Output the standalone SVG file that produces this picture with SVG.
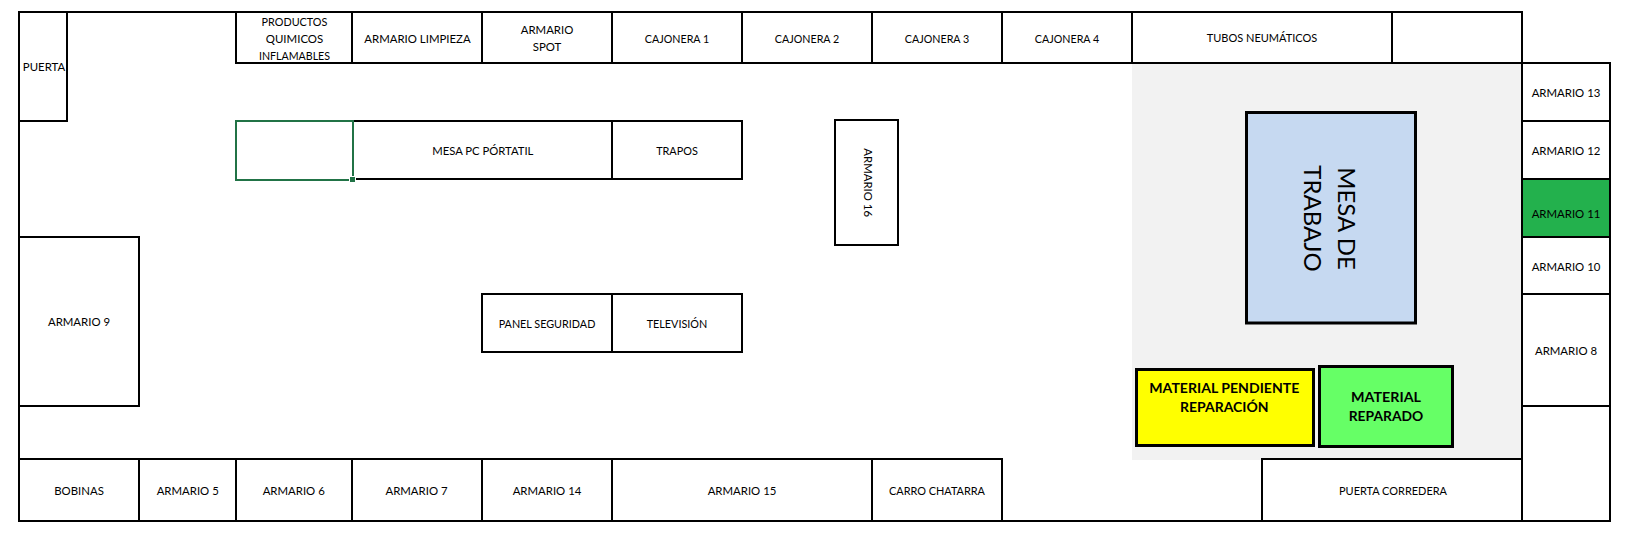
<svg xmlns="http://www.w3.org/2000/svg" width="1630" height="540" viewBox="0 0 1630 540">
<style>
rect{fill:none;stroke:#000;stroke-width:2}
text{font-family:"Lato","Liberation Sans",sans-serif;font-size:11.4px;fill:#000;text-anchor:middle}
.thick{stroke-width:3}
.b{font-weight:700;font-size:14.1px}
.big{font-size:24px}
</style>
<rect x="0" y="0" width="1630" height="540" style="fill:#fff;stroke:none"/>
<rect id="zona-trabajo" x="1132" y="63" width="390" height="397" style="fill:#f2f2f2;stroke:none"/>
<g id="contorno">
<path d="M19 12H1522V63H1610V521H19Z" fill="none" stroke="#000" stroke-width="2"/>
</g>
<g id="puerta"><rect x="19" y="12" width="48" height="109"/><text x="44" y="71.100">PUERTA</text></g>
<g id="productos"><rect x="236" y="12" width="116" height="51"/><text x="294.500" y="25.800" textLength="65.800" lengthAdjust="spacingAndGlyphs">PRODUCTOS</text><text x="294.500" y="43.100" textLength="57.500" lengthAdjust="spacingAndGlyphs">QUIMICOS</text><text x="294.500" y="60.100" textLength="71" lengthAdjust="spacingAndGlyphs">INFLAMABLES</text></g>
<g id="armario-limpieza"><rect x="352" y="12" width="130" height="51"/><text x="417.500" y="43.100">ARMARIO LIMPIEZA</text></g>
<g id="armario-spot"><rect x="482" y="12" width="130" height="51"/><text x="547" y="34.100">ARMARIO</text><text x="547" y="51.400">SPOT</text></g>
<g id="cajonera-1"><rect x="612" y="12" width="130" height="51"/><text x="677" y="43.100" textLength="64.400" lengthAdjust="spacingAndGlyphs">CAJONERA 1</text></g>
<g id="cajonera-2"><rect x="742" y="12" width="130" height="51"/><text x="807" y="43.100" textLength="64.400" lengthAdjust="spacingAndGlyphs">CAJONERA 2</text></g>
<g id="cajonera-3"><rect x="872" y="12" width="130" height="51"/><text x="937" y="43.100" textLength="64.400" lengthAdjust="spacingAndGlyphs">CAJONERA 3</text></g>
<g id="cajonera-4"><rect x="1002" y="12" width="130" height="51"/><text x="1067" y="43.100" textLength="64.400" lengthAdjust="spacingAndGlyphs">CAJONERA 4</text></g>
<g id="tubos"><rect x="1132" y="12" width="260" height="51"/><text x="1262" y="41.800" textLength="110.500" lengthAdjust="spacingAndGlyphs">TUBOS NEUMÁTICOS</text></g>
<g id="vacio-superior"><rect x="1392" y="12" width="130" height="51"/></g>
<g id="armario-13"><rect x="1522" y="63" width="88" height="58"/><text x="1566" y="97.100">ARMARIO 13</text></g>
<g id="armario-12"><rect x="1522" y="121" width="88" height="58"/><text x="1566" y="155.100">ARMARIO 12</text></g>
<g id="armario-11"><rect x="1522" y="179" width="88" height="58" style="fill:#23b14d"/><text x="1566" y="217.800">ARMARIO 11</text></g>
<g id="armario-10"><rect x="1522" y="237" width="88" height="57"/><text x="1566" y="270.800">ARMARIO 10</text></g>
<g id="armario-8"><rect x="1522" y="294" width="88" height="112"/><text x="1566" y="355.100">ARMARIO 8</text></g>
<g id="vacio-inferior"><rect x="1522" y="406" width="88" height="115"/></g>
<g id="mesa-pc"><rect x="353" y="121" width="259" height="58"/><text x="482.800" y="154.800" textLength="101.200" lengthAdjust="spacingAndGlyphs">MESA PC PÓRTATIL</text></g>
<g id="trapos"><rect x="612" y="121" width="130" height="58"/><text x="677" y="154.800" textLength="41.700" lengthAdjust="spacingAndGlyphs">TRAPOS</text></g>
<g id="celda-seleccionada"><rect x="236" y="121" width="117" height="59" style="stroke:#217346"/><rect x="349.500" y="176.500" width="6" height="6" style="fill:#217346;stroke:#fff;stroke-width:1"/></g>
<g id="armario-16"><rect x="835" y="120" width="63" height="125"/><text transform="translate(864 182.700) rotate(90)">ARMARIO 16</text></g>
<g id="armario-9"><rect x="19" y="237" width="120" height="169"/><text x="79" y="326.100">ARMARIO 9</text></g>
<g id="panel-seguridad"><rect x="482" y="294" width="130" height="58"/><text x="547" y="328.100" textLength="96.700" lengthAdjust="spacingAndGlyphs">PANEL SEGURIDAD</text></g>
<g id="television"><rect x="612" y="294" width="130" height="58"/><text x="677" y="328.100" textLength="60.600" lengthAdjust="spacingAndGlyphs">TELEVISIÓN</text></g>
<g id="bobinas"><rect x="19" y="459" width="120" height="62"/><text x="79" y="495.100">BOBINAS</text></g>
<g id="armario-5"><rect x="139" y="459" width="97" height="62"/><text x="187.700" y="495.100">ARMARIO 5</text></g>
<g id="armario-6"><rect x="236" y="459" width="116" height="62"/><text x="293.700" y="495.100">ARMARIO 6</text></g>
<g id="armario-7"><rect x="352" y="459" width="130" height="62"/><text x="416.500" y="495.100">ARMARIO 7</text></g>
<g id="armario-14"><rect x="482" y="459" width="130" height="62"/><text x="547" y="495.100">ARMARIO 14</text></g>
<g id="armario-15"><rect x="612" y="459" width="260" height="62"/><text x="742" y="495.100">ARMARIO 15</text></g>
<g id="carro-chatarra"><rect x="872" y="459" width="130" height="62"/><text x="937" y="495.100" textLength="96" lengthAdjust="spacingAndGlyphs">CARRO CHATARRA</text></g>
<g id="puerta-corredera"><rect x="1262" y="459" width="260" height="62"/><text x="1393" y="495.100" textLength="108" lengthAdjust="spacingAndGlyphs">PUERTA CORREDERA</text></g>
<g id="mesa-trabajo"><rect class="thick" x="1246.500" y="112.500" width="169" height="210.500" style="fill:#c6d9f1"/><text class="big" transform="translate(1338 218.500) rotate(90)">MESA DE</text><text class="big" transform="translate(1304 218.500) rotate(90)">TRABAJO</text></g>
<g id="material-pendiente"><rect class="thick" x="1136.500" y="369.500" width="177" height="76" style="fill:#ff0"/><text class="b" x="1224.300" y="393.100" textLength="150" lengthAdjust="spacingAndGlyphs">MATERIAL PENDIENTE</text><text class="b" x="1224.300" y="412.100" textLength="88.500" lengthAdjust="spacingAndGlyphs">REPARACIÓN</text></g>
<g id="material-reparado"><rect class="thick" x="1319.500" y="366.500" width="133" height="80" style="fill:#6f6"/><text class="b" x="1386" y="402.100" textLength="70" lengthAdjust="spacingAndGlyphs">MATERIAL</text><text class="b" x="1386" y="421.100" textLength="74.700" lengthAdjust="spacingAndGlyphs">REPARADO</text></g>
</svg>
